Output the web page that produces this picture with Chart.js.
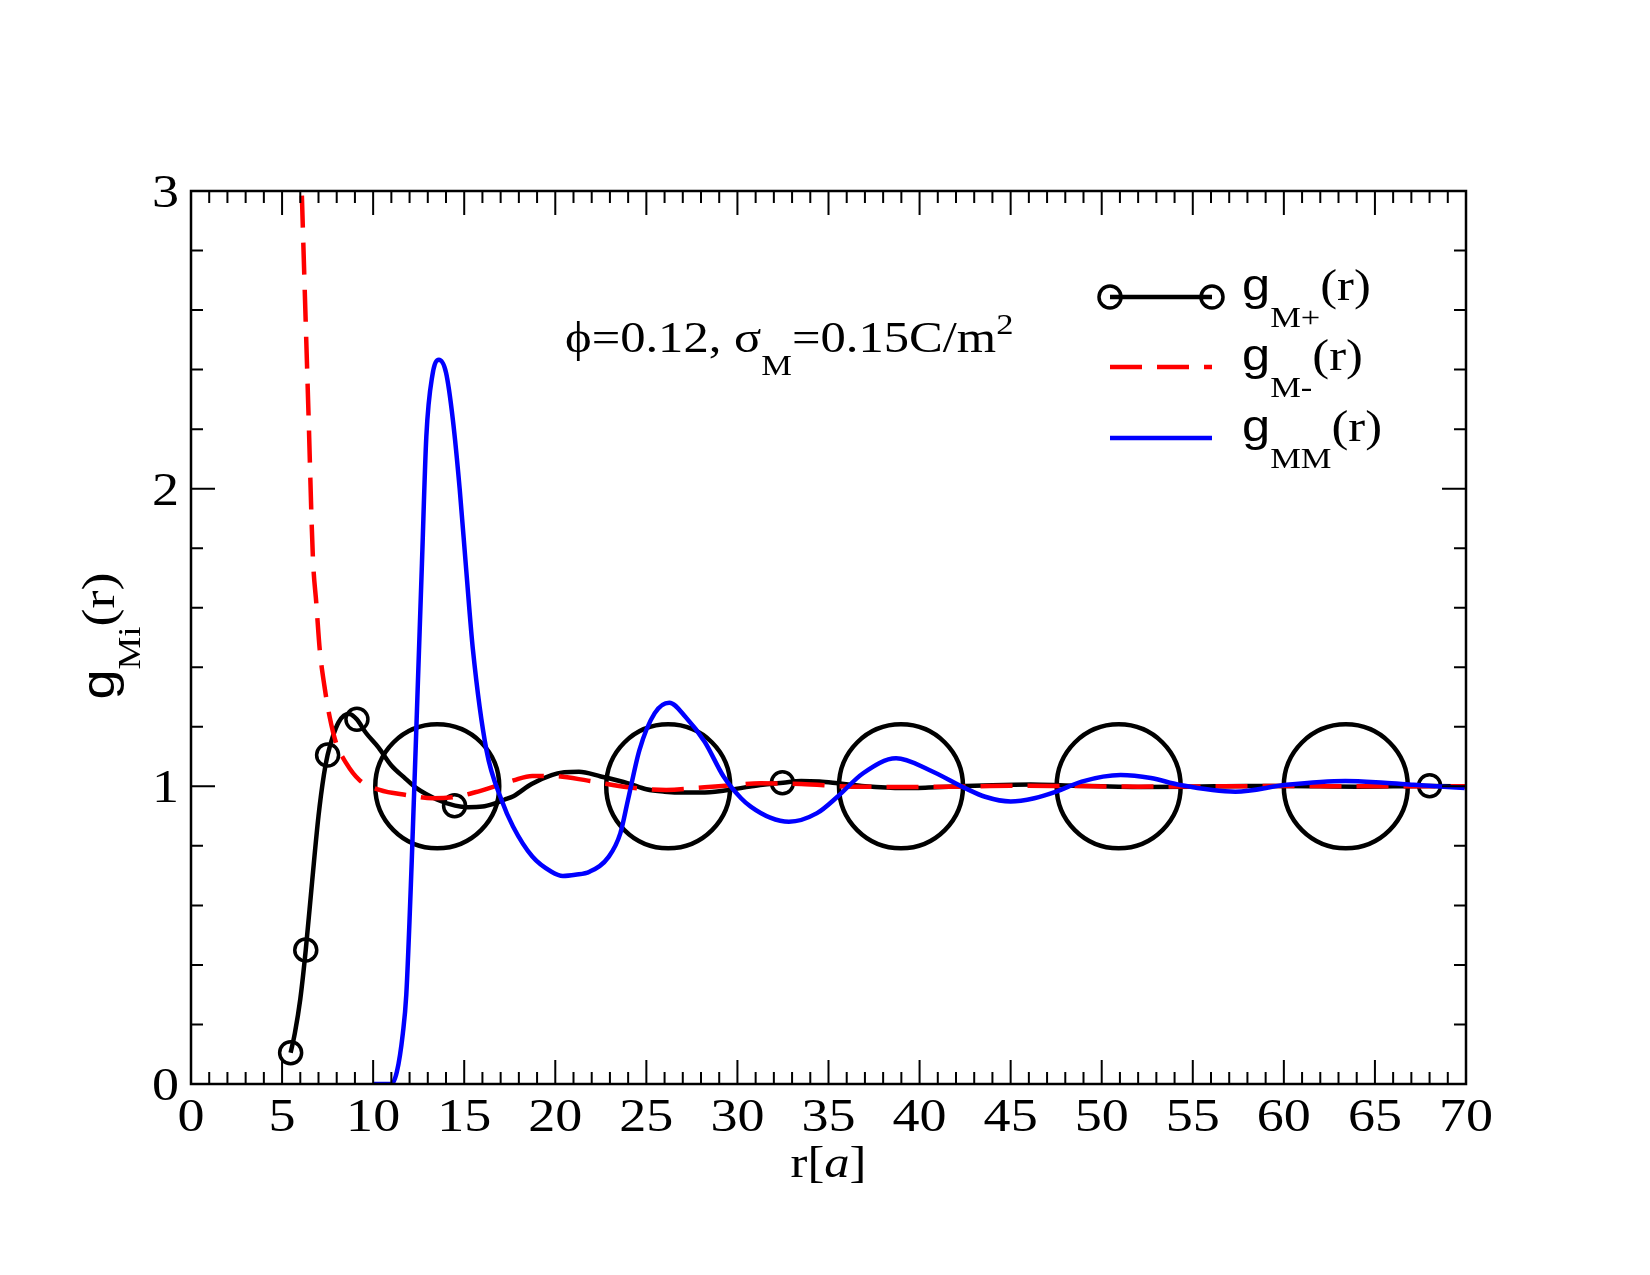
<!DOCTYPE html>
<html>
<head>
<meta charset="utf-8">
<title>g_Mi(r)</title>
<script src="https://cdn.jsdelivr.net/npm/chart.js@4.4.1/dist/chart.umd.min.js"></script>
<style>
  html, body { margin: 0; padding: 0; background: #fff; }
  #wrap { width: 1650px; height: 1275px; }
</style>
</head>
<body>
<div id="wrap"><canvas id="myChart" width="1650" height="1275"></canvas></div>
<script>
// g_M+(r), solid black
var plusX = [5.47, 5.7, 6.0, 6.3, 6.65, 7.0, 7.3, 7.5, 7.8, 8.1, 8.4, 8.7, 9.1, 9.6, 10.3, 11.0, 11.7, 12.4, 13.5, 14.5,
             15.2, 16.0, 16.6, 17.2, 17.7, 18.7, 19.8, 20.5, 21.3, 22.5, 24.0, 25.0, 26.0, 27.1, 28.0, 29.3, 30.7, 31.5, 32.5, 33.5,
             34.5, 35.5, 37.0, 39.1, 40.5, 42.5, 44.0, 46.1, 48.0, 50.0, 52.0, 55.0, 58.0, 60.0, 62.0, 64.0, 66.0, 68.0, 70.0];
var plusY = [0.105, 0.17, 0.285, 0.45, 0.68, 0.9, 1.04, 1.105, 1.17, 1.215, 1.238, 1.243, 1.225, 1.18, 1.13, 1.07, 1.03, 0.993, 0.956, 0.935,
             0.930, 0.932, 0.941, 0.955, 0.967, 1.008, 1.038, 1.047, 1.049, 1.033, 1.010, 0.99, 0.982, 0.979, 0.979, 0.986, 0.999, 1.006, 1.012, 1.018,
             1.016, 1.01, 1.0, 0.994, 0.996, 1.001, 1.004, 1.006, 1.003, 1.0, 0.998, 0.999, 1.001, 1.001, 1.0, 0.999, 1.0, 1.001, 1.0];
// circle symbols on g_M+
var plusMarkX = [5.47, 6.3, 7.5, 9.11, 14.47, 32.47, 68.0];
var plusMarkY = [0.105, 0.45, 1.105, 1.225, 0.935, 1.012, 1.002];

// g_M-(r), red dashed
var minusX = [5.93, 6.08, 6.21, 6.45, 6.69, 6.88, 7.07, 7.33, 7.61, 7.97, 8.52, 9.25, 10.35, 11.82, 13.28, 14.54, 15.6, 16.63, 17.7, 18.74,
              19.79, 21.9, 24.0, 26.09, 28.2, 29.5, 31.27, 33.5, 36.3, 39.1, 42.0, 45.0, 48.0, 52.0, 56.0, 60.0, 65.0, 70.0];
var minusY = [3.3, 3.0, 2.736, 2.254, 1.772, 1.615, 1.458, 1.335, 1.234, 1.145, 1.078, 1.021, 0.988, 0.971, 0.960, 0.965, 0.98, 0.999, 1.02, 1.035,
              1.035, 1.018, 0.997, 0.988, 0.997, 1.003, 1.010, 1.008, 0.999, 0.998, 0.999, 1.002, 1.001, 0.999, 1.0, 1.001, 1.0, 1.0];

// g_MM(r), blue
var mmX = [10.0, 11.0, 11.3, 11.63, 11.82, 12.12, 12.43, 12.68, 12.92, 13.25, 13.61, 14.0, 14.38, 14.75, 15.11, 15.48, 16.22, 17.05, 17.68, 18.74,
           19.79, 20.42, 21.1, 21.88, 22.94, 23.57, 23.99, 24.62, 25.46, 26.26, 27.14, 28.2, 29.24, 30.2, 30.73, 31.8, 32.83, 34.37, 35.49, 36.9,
           38.71, 40.53, 42.5, 43.6, 45.0, 46.3, 47.5, 48.9, 51.04, 52.7, 54.26, 57.34, 60.14, 63.37, 65.5, 67.13, 69.93];
var mmY = [0, 0, 0.04, 0.17, 0.3, 0.75, 1.3, 1.75, 2.175, 2.38, 2.433, 2.39, 2.23, 2.0, 1.727, 1.458, 1.122, 0.954, 0.865, 0.764,
           0.713, 0.699, 0.703, 0.713, 0.764, 0.842, 0.954, 1.122, 1.246, 1.281, 1.234, 1.15, 1.033, 0.96, 0.932, 0.895, 0.881, 0.910, 0.965, 1.044,
           1.094, 1.055, 0.994, 0.965, 0.949, 0.96, 0.982, 1.016, 1.038, 1.028, 1.005, 0.982, 1.005, 1.018, 1.012, 1.005, 0.994];

// big open circles on the g=1 line
var ringX = [13.52, 26.2, 38.98, 50.93, 63.4];
var ringY = [1, 1, 1, 1, 1];

var xTickLabels = [0, 5, 10, 15, 20, 25, 30, 35, 40, 45, 50, 55, 60, 65, 70];
var yTickLabels = [0, 1, 2, 3];

var SERIF = '"Liberation Serif", "Times New Roman", serif';
var SANS = '"Liberation Sans", Arial, sans-serif';
var SX = 1.15; // the original lettering is a bit wider than Times

function pts(xs, ys) {
  return xs.map(function (x, i) { return { x: x, y: ys[i] }; });
}

// draws text runs (with sub/superscripts) in one go
function rich(ctx, x, y, parts, align) {
  var w = 0;
  parts.forEach(function (p) {
    ctx.font = p.f;
    p.w = ctx.measureText(p.t).width;
    w += p.w;
  });
  ctx.save();
  ctx.translate(x, y);
  ctx.scale(SX, 1);
  var cx = align == 'center' ? -w / 2 : (align == 'right' ? -w : 0);
  ctx.textAlign = 'left';
  ctx.textBaseline = 'alphabetic';
  ctx.fillStyle = '#000';
  parts.forEach(function (p) {
    ctx.font = p.f;
    ctx.fillText(p.t, cx, p.dy || 0);
    cx += p.w;
  });
  ctx.restore();
}

var big = '44px ' + SERIF, small = '30px ' + SERIF, gfont = '44px ' + SANS;

var decor = {
  id: 'decor',
  afterDraw: function (chart) {
    var ctx = chart.ctx, a = chart.chartArea;
    var sx = chart.scales.x, sy = chart.scales.y;
    ctx.save();
    ctx.strokeStyle = '#000';
    ctx.lineWidth = 2.5;
    ctx.strokeRect(a.left, a.top, a.right - a.left, a.bottom - a.top);

    // inward ticks, mirrored on all sides
    ctx.lineWidth = 2;
    ctx.beginPath();
    for (var v = 0; v <= 70; v++) {
      var px = sx.getPixelForValue(v);
      var len = v % 5 == 0 ? 24 : 12;
      ctx.moveTo(px, a.bottom); ctx.lineTo(px, a.bottom - len);
      ctx.moveTo(px, a.top); ctx.lineTo(px, a.top + len);
    }
    for (var j = 0; j <= 15; j++) {
      var py = sy.getPixelForValue(j * 0.2);
      var l2 = j % 5 == 0 ? 24 : 12;
      ctx.moveTo(a.left, py); ctx.lineTo(a.left + l2, py);
      ctx.moveTo(a.right, py); ctx.lineTo(a.right - l2, py);
    }
    ctx.stroke();

    var tf = '47px ' + SERIF;
    xTickLabels.forEach(function (t) {
      rich(ctx, sx.getPixelForValue(t), a.bottom + 47, [{ t: String(t), f: tf }], 'center');
    });
    yTickLabels.forEach(function (t) {
      rich(ctx, a.left - 12, sy.getPixelForValue(t) + 16, [{ t: String(t), f: tf }], 'right');
    });

    // axis titles
    rich(ctx, (a.left + a.right) / 2, 1177, [
      { t: 'r[', f: big }, { t: 'a', f: 'italic 44px ' + SERIF }, { t: ']', f: big }
    ], 'center');
    ctx.save();
    ctx.translate(114, 636);
    ctx.rotate(-Math.PI / 2);
    rich(ctx, 0, 0, [
      { t: 'g', f: '47px ' + SANS }, { t: 'Mi', f: '32px ' + SERIF, dy: 26 }, { t: '(r)', f: '47px ' + SERIF }
    ], 'center');
    ctx.restore();

    // annotation
    rich(ctx, 565, 352, [
      { t: '\u03d5=0.12, \u03c3', f: big }, { t: 'M', f: small, dy: 23 },
      { t: '=0.15C/m', f: big }, { t: '2', f: small, dy: -18 }
    ], 'left');

    // legend
    var rows = [297, 367, 438];
    var names = ['M+', 'M-', 'MM'];
    var x0 = 1110, x1 = 1212;
    ctx.lineWidth = 4.5;
    ctx.strokeStyle = '#000';
    ctx.beginPath(); ctx.moveTo(x0, rows[0]); ctx.lineTo(x1, rows[0]); ctx.stroke();
    ctx.lineWidth = 3.5;
    [x0, x1].forEach(function (cx) {
      ctx.beginPath(); ctx.arc(cx, rows[0], 11, 0, Math.PI * 2); ctx.stroke();
    });
    ctx.strokeStyle = '#ff0000';
    ctx.lineWidth = 4.5;
    ctx.setLineDash([32, 15]);
    ctx.beginPath(); ctx.moveTo(x0, rows[1]); ctx.lineTo(x1, rows[1]); ctx.stroke();
    ctx.setLineDash([]);
    ctx.strokeStyle = '#0000ff';
    ctx.lineWidth = 4.5;
    ctx.beginPath(); ctx.moveTo(x0, rows[2]); ctx.lineTo(x1, rows[2]); ctx.stroke();
    rows.forEach(function (ry, i) {
      rich(ctx, 1242, ry + 3, [
        { t: 'g', f: gfont }, { t: names[i], f: small, dy: 27 }, { t: '(r)', f: big }
      ], 'left');
    });
    ctx.restore();
  }
};

var ctx = document.getElementById('myChart').getContext('2d');
var myChart = new Chart(ctx, {
  type: 'scatter',
  data: {
    datasets: [
      {
        label: 'gMM', data: pts(mmX, mmY), showLine: true,
        borderColor: '#0000ff', borderWidth: 4.5, pointRadius: 0,
        cubicInterpolationMode: 'monotone'
      },
      {
        label: 'gM-', data: pts(minusX, minusY), showLine: true,
        borderColor: '#ff0000', borderWidth: 4.5, borderDash: [32, 15], pointRadius: 0,
        cubicInterpolationMode: 'monotone'
      },
      {
        label: 'gM+', data: pts(plusX, plusY), showLine: true,
        borderColor: '#000000', borderWidth: 4.5, pointRadius: 0,
        cubicInterpolationMode: 'monotone'
      },
      {
        label: 'gM+ symbols', data: pts(plusMarkX, plusMarkY), showLine: false,
        pointStyle: 'circle', pointRadius: 11, pointBorderWidth: 3.5,
        pointBorderColor: '#000000', pointBackgroundColor: 'rgba(0,0,0,0)'
      },
      {
        label: 'rings', data: pts(ringX, ringY), showLine: false,
        pointStyle: 'circle', pointRadius: 62, pointBorderWidth: 4.5,
        pointBorderColor: '#000000', pointBackgroundColor: 'rgba(0,0,0,0)'
      }
    ]
  },
  options: {
    responsive: false,
    animation: false,
    devicePixelRatio: 1,
    layout: { padding: { left: 0, right: 184, top: 191, bottom: 0 } },
    plugins: { legend: { display: false }, tooltip: { enabled: false } },
    scales: {
      x: {
        type: 'linear', min: 0, max: 70,
        ticks: { display: false, stepSize: 1 },
        grid: { display: false }, border: { display: false },
        afterFit: function (s) { s.height = 191; }
      },
      y: {
        type: 'linear', min: 0, max: 3,
        ticks: { display: false, stepSize: 0.2 },
        grid: { display: false }, border: { display: false },
        afterFit: function (s) { s.width = 191; }
      }
    }
  },
  plugins: [decor]
});
</script>
</body>
</html>
